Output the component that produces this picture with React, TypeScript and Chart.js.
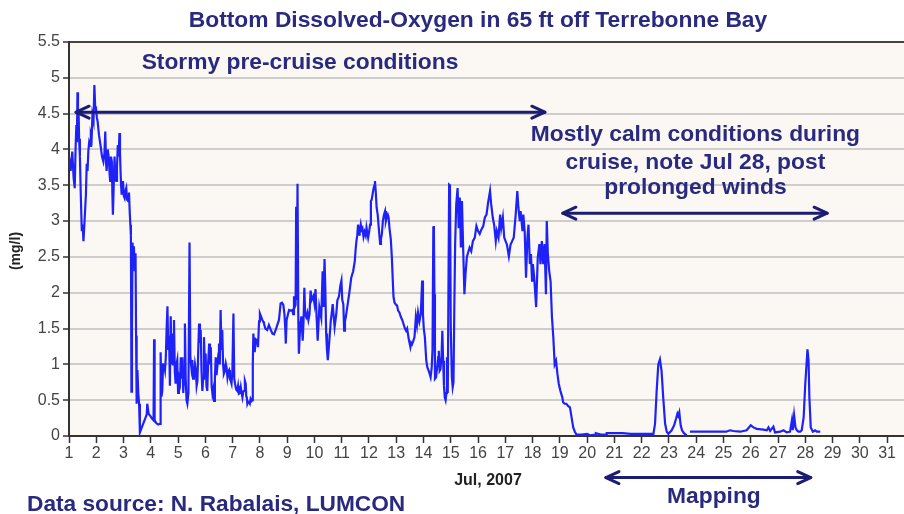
import { useEffect, useRef } from "react";
import { Chart, registerables } from "chart.js";

Chart.register(...registerables);

// ---- Data (day of July 2007, bottom dissolved oxygen mg/l) ----
const days = [
  1.0, 1.06, 1.12, 1.17, 1.21, 1.24, 1.27, 1.29, 1.31, 1.33, 1.35, 1.37, 1.4, 1.43, 1.47, 1.5, 1.53, 1.57, 1.62, 1.65,
  1.68, 1.71, 1.74, 1.78, 1.8, 1.83, 1.86, 1.9, 1.93, 1.96, 1.99, 2.02, 2.05, 2.1, 2.17, 2.21, 2.26, 2.3, 2.33, 2.36,
  2.38, 2.42, 2.46, 2.49, 2.51, 2.54, 2.57, 2.59, 2.61, 2.64, 2.67, 2.7, 2.73, 2.76, 2.79, 2.82, 2.85, 2.87, 2.89, 2.91,
  2.93, 2.96, 2.98, 3.01, 3.04, 3.07, 3.1, 3.13, 3.17, 3.2, 3.23, 3.25, 3.27, 3.29, 3.31, 3.33, 3.36, 3.38, 3.41, 3.44,
  3.46, 3.48, 3.51, 3.54, 3.57, 3.6,
  3.81, 3.85, 3.87, 3.92, 3.98, 4.05, 4.1, 4.12, 4.14, 4.2, 4.27, 4.34, 4.36, 4.39, 4.42, 4.45, 4.48, 4.52, 4.55, 4.58,
  4.61, 4.64, 4.67, 4.7, 4.73, 4.76, 4.79, 4.82, 4.85, 4.88, 4.91, 4.94, 4.97, 5.0, 5.03, 5.07, 5.1, 5.13, 5.16, 5.19,
  5.22, 5.25, 5.28, 5.31, 5.34, 5.38, 5.42, 5.45, 5.49, 5.52, 5.55, 5.58, 5.62, 5.65, 5.68, 5.71, 5.74, 5.77, 5.8, 5.83,
  5.86, 5.89, 5.92, 5.95, 5.98, 6.01, 6.04, 6.07, 6.1, 6.14, 6.17, 6.2, 6.23, 6.26, 6.29, 6.32, 6.35, 6.38, 6.41, 6.45,
  6.48, 6.5, 6.53, 6.56, 6.59, 6.62, 6.65, 6.68, 6.71, 6.75, 6.78, 6.81, 6.84, 6.87, 6.9, 6.93, 6.96, 6.99, 7.03, 7.06,
  7.09, 7.13, 7.17, 7.2, 7.23, 7.27, 7.3, 7.33, 7.36, 7.39, 7.42, 7.45, 7.48, 7.5, 7.52, 7.54, 7.57, 7.6, 7.63, 7.66,
  7.7, 7.72, 7.74, 7.76, 7.79, 7.81, 7.85, 7.88, 7.91, 7.93, 7.97, 8.0, 8.04, 8.09, 8.12, 8.15, 8.2, 8.27, 8.33, 8.4,
  8.46, 8.52, 8.58, 8.64, 8.7, 8.76, 8.81, 8.86, 8.9, 8.93, 8.95, 8.98, 9.03, 9.07, 9.13, 9.19, 9.22, 9.25, 9.28, 9.31,
  9.33, 9.35, 9.38, 9.41,
  9.43, 9.47, 9.52, 9.57, 9.6, 9.63, 9.66, 9.7, 9.74, 9.78, 9.82, 9.86, 9.9, 9.96, 10.0, 10.04, 10.08, 10.12, 10.18, 10.25,
  10.3, 10.33, 10.37, 10.4, 10.43, 10.46, 10.49, 10.52, 10.56, 10.6, 10.63, 10.67, 10.7, 10.74, 10.8, 10.84, 10.9, 10.95, 10.99, 11.02,
  11.06, 11.09, 11.12, 11.15, 11.22, 11.28, 11.35, 11.42, 11.48, 11.51, 11.54, 11.57, 11.6, 11.64, 11.66, 11.7, 11.73, 11.76, 11.8, 11.84,
  11.88, 11.91, 11.94, 11.97, 12.01, 12.04, 12.07, 12.1, 12.13, 12.17, 12.2, 12.22, 12.25, 12.28, 12.32, 12.36, 12.41, 12.44, 12.47, 12.51,
  12.55, 12.59, 12.62, 12.65, 12.69, 12.72, 12.75, 12.8, 12.84, 12.87, 12.9, 12.94, 12.98, 13.03, 13.07, 13.12, 13.17, 13.22, 13.27, 13.32,
  13.36, 13.4, 13.46, 13.52, 13.55, 13.58, 13.62, 13.67, 13.72, 13.76, 13.8, 13.85, 13.9, 13.95, 13.98, 14.01, 14.05, 14.1, 14.14, 14.2,
  14.26, 14.3, 14.33, 14.36, 14.38, 14.4, 14.42, 14.46, 14.5, 14.54, 14.56, 14.59, 14.62, 14.66, 14.69, 14.72, 14.75, 14.78, 14.81, 14.84,
  14.86, 14.89, 14.94, 14.97, 15.0, 15.04, 15.07, 15.1,
  15.13, 15.16, 15.2, 15.25, 15.29, 15.33, 15.37, 15.41, 15.46, 15.5, 15.54, 15.59, 15.62, 15.69, 15.75, 15.81, 15.88, 15.94, 16.0, 16.06,
  16.12, 16.19, 16.25, 16.31, 16.37, 16.44, 16.48, 16.54, 16.59, 16.65, 16.69, 16.75, 16.81, 16.85, 16.91, 16.96, 17.01, 17.06, 17.13, 17.19,
  17.25, 17.31, 17.38, 17.44, 17.48, 17.53, 17.56, 17.63, 17.66, 17.71, 17.76, 17.81, 17.85, 17.9, 17.94, 17.98, 18.01, 18.06, 18.13, 18.19,
  18.25, 18.29, 18.34, 18.39, 18.44, 18.49, 18.52, 18.56, 18.61, 18.66, 18.71, 18.76, 18.81, 18.86, 18.91, 18.96, 19.02, 19.09, 19.12, 19.17,
  19.24, 19.3, 19.37, 19.43, 19.49, 19.55, 19.61,
  19.8, 20.0, 20.1, 20.3, 20.32, 20.5, 20.7, 20.72, 21.0, 21.3, 21.6, 22.0, 22.3, 22.43, 22.49, 22.55, 22.61, 22.67, 22.73, 22.79,
  22.86, 22.92, 22.98, 23.1, 23.19, 23.26, 23.31, 23.34, 23.38, 23.43, 23.48, 23.55, 23.65, 23.71,
  23.77, 24.0, 24.4, 24.8, 25.1, 25.24, 25.36, 25.61, 25.85, 26.0, 26.1, 26.22, 26.47, 26.59, 26.65, 26.71, 26.83, 26.89, 27.08, 27.2,
  27.32, 27.44, 27.51, 27.54, 27.59, 27.64, 27.69, 27.75, 27.81, 27.87, 27.94, 28.0, 28.08, 28.12, 28.15, 28.2, 28.28, 28.36, 28.42, 28.55,
];

const oxygen = [
  3.9, 3.7, 3.97, 3.6, 3.46, 4.0, 4.34, 4.1, 4.8, 4.3, 4.55, 4.15, 3.9, 3.4, 2.86, 2.95, 2.72, 3.0, 3.37, 3.8,
  3.7, 3.98, 4.1, 4.05, 4.2, 4.15, 4.48, 4.4, 4.9, 4.6, 4.57, 4.45, 4.39, 4.2, 4.02, 3.9, 3.83, 3.95, 4.25, 3.8,
  3.7, 4.0, 3.88, 3.65, 3.56, 3.9, 3.83, 3.4, 3.09, 3.5, 3.9, 3.6, 3.56, 3.75, 4.06, 3.9, 4.23, 3.95, 3.7, 3.5,
  3.37, 3.45, 3.56, 3.35, 3.32, 3.42, 3.46, 3.3, 3.28, 3.4, 3.1, 2.95, 2.8, 0.62, 1.5, 2.7, 2.4, 2.65, 2.3, 2.55,
  1.4, 0.45, 0.92, 0.6, 0.45, 0.05,
  0.26, 0.3, 0.45, 0.31, 0.28, 0.24, 0.22, 1.35, 0.22, 0.18, 0.16, 0.17, 1.17, 0.55, 0.63, 1.0, 1.01, 0.92, 1.1, 1.5,
  1.81, 1.2, 1.4, 0.7, 1.67, 1.0, 1.43, 1.0, 1.62, 0.9, 0.73, 1.0, 1.06, 0.6, 0.82, 0.75, 1.1, 0.8, 1.1, 0.6,
  0.82, 1.57, 0.8, 0.5, 0.45, 0.6, 2.7, 1.1, 0.95, 1.06, 0.8, 0.82, 1.0, 0.92, 0.7, 0.77, 1.2, 1.57, 1.3, 1.48,
  0.9, 0.63, 0.8, 1.38, 1.0, 1.15, 0.7, 0.63, 1.0, 1.29, 1.0, 1.24, 0.7, 0.59, 0.65, 0.49, 0.8, 1.1, 0.85, 1.01,
  1.15, 1.29, 1.0, 1.76, 1.2, 1.48, 1.0, 0.87, 0.9, 1.01, 0.95, 0.82, 0.9, 0.92, 0.8, 0.77, 0.73, 0.9, 1.71, 0.8,
  0.73, 0.65, 0.63, 0.7, 0.59, 0.6, 0.68, 0.6, 0.54, 0.62, 0.63, 0.77, 0.73, 0.55, 0.54, 0.45, 0.48, 0.47, 0.45, 0.52,
  0.49, 0.5, 1.0, 1.43, 1.25, 1.17, 1.35, 1.34, 1.3, 1.24, 1.6, 1.71, 1.67, 1.62, 1.6, 1.57, 1.5, 1.48, 1.55, 1.48,
  1.43, 1.42, 1.48, 1.55, 1.62, 1.85, 1.86, 1.83, 1.7, 1.5, 1.29, 1.62, 1.7, 1.76, 1.75, 1.76, 1.7, 1.95, 1.8, 1.83,
  3.2, 1.9, 3.52, 1.6,
  1.15, 1.48, 1.67, 1.33, 1.6, 2.07, 1.7, 1.66, 1.72, 1.62, 1.7, 2.03, 1.9, 1.95, 1.85, 2.05, 1.66, 1.33, 1.8, 1.65,
  2.3, 1.8, 2.47, 2.05, 1.43, 1.2, 1.06, 1.2, 1.4, 1.61, 1.7, 1.84, 1.7, 1.52, 1.7, 1.89, 1.95, 2.1, 2.17, 1.9,
  1.84, 1.47, 1.6, 1.66, 1.84, 2.0, 2.21, 2.3, 2.44, 2.6, 2.72, 2.8, 2.95, 2.81, 2.85, 2.95, 2.88, 2.9, 2.78, 2.85,
  2.8, 2.91, 2.84, 2.77, 2.86, 2.95, 3.28, 3.3, 3.37, 3.46, 3.5, 3.56, 3.4, 3.19, 3.09, 2.9, 2.68, 2.75, 2.81, 3.0,
  3.09, 3.14, 3.0, 3.05, 3.09, 3.05, 2.91, 2.75, 2.49, 2.2, 1.94, 1.86, 1.84, 1.82, 1.75, 1.72, 1.66, 1.62, 1.56, 1.5,
  1.47, 1.5, 1.35, 1.24, 1.3, 1.28, 1.32, 1.38, 1.66, 1.55, 1.72, 1.6, 1.7, 2.17, 1.7, 1.5, 1.38, 1.06, 0.96, 0.9,
  0.82, 0.95, 1.2, 2.91, 2.93, 1.98, 0.8, 0.82, 0.96, 1.1, 1.19, 0.91, 0.93, 1.1, 1.47, 1.05, 0.7, 0.54, 0.5, 0.6,
  1.1, 0.6, 3.51, 3.5, 1.5, 0.82, 0.68, 0.75,
  1.8, 2.68, 3.23, 3.46, 2.9, 3.33, 2.63, 3.28, 2.54, 1.98, 2.26, 2.5, 2.54, 2.63, 2.58, 2.72, 2.77, 2.93, 2.86, 2.82,
  2.88, 2.93, 3.05, 3.09, 3.26, 3.42, 3.24, 3.05, 2.95, 2.72, 2.86, 2.77, 3.09, 2.9, 3.05, 2.77, 2.72, 2.67, 2.51, 2.67,
  2.72, 2.77, 3.09, 3.42, 3.19, 3.0, 3.14, 2.86, 3.09, 2.86, 2.21, 2.77, 2.95, 2.4, 2.54, 2.17, 2.4, 2.21, 1.8, 2.49,
  2.68, 2.4, 2.72, 2.4, 2.68, 1.98, 3.0, 2.54, 2.3, 2.16, 1.66, 1.38, 1.0, 1.05, 0.87, 0.73, 0.63, 0.54, 0.47, 0.45,
  0.45, 0.42, 0.4, 0.26, 0.12, 0.06, 0.02,
  0.02, 0.03, 0.01, 0.02, 0.04, 0.02, 0.02, 0.04, 0.04, 0.04, 0.03, 0.03, 0.03, 0.03, 0.17, 0.63, 1.0, 1.07, 0.91, 0.54,
  0.17, 0.06, 0.03, 0.08, 0.15, 0.24, 0.31, 0.28, 0.33, 0.15, 0.08, 0.04, 0.01, null,
  0.06, 0.06, 0.06, 0.06, 0.06, 0.08, 0.07, 0.06, 0.08, 0.15, 0.12, 0.1, 0.09, 0.08, 0.12, 0.07, 0.13, 0.05, 0.06, 0.08,
  0.05, 0.06, 0.22, 0.08, 0.29, 0.12, 0.08, 0.06, 0.06, 0.08, 0.26, 0.73, 1.21, 1.05, 0.54, 0.12, 0.06, 0.08, 0.06, 0.06,
];

const dayTicks = [
  1, 2, 3, 4, 5, 6, 7, 8, 9, 10, 11, 12, 13, 14, 15, 16, 17, 18, 19, 20, 21, 22, 23, 24, 25, 26, 27, 28, 29, 30, 31,
];
const oxygenTicks = [0, 0.5, 1, 1.5, 2, 2.5, 3, 3.5, 4, 4.5, 5, 5.5];

const chartTitle = "Bottom Dissolved-Oxygen in 65 ft off Terrebonne Bay";
const yAxisTitle = "(mg/l)";
const xAxisTitle = "Jul, 2007";
const sourceNote = "Data source: N. Rabalais, LUMCON";

// annotation text placed in data units (day, mg/l)
const noteTexts = [
  "Stormy pre-cruise conditions",
  "Mostly calm conditions during",
  "cruise, note Jul 28, post",
  "prolonged winds",
  "Mapping",
];
const noteDays = [9.47, 23.97, 23.97, 23.97, 24.65];
const noteLevels = [5.21, 4.2, 3.82, 3.46, -0.85];

// double arrows in data units
const arrowStarts = [1.26, 19.11, 20.69];
const arrowEnds = [18.45, 28.8, 28.2];
const arrowLevels = [4.52, 3.11, -0.58];

const NAVY = "#29297f";
const ARROW = "#1c1c72";
const FONT = "'Liberation Sans', Arial, sans-serif";

function drawArrowHead(ctx: CanvasRenderingContext2D, x: number, y: number, dir: number) {
  const len = 13;
  const half = 6;
  ctx.beginPath();
  ctx.moveTo(x - dir * len, y - half);
  ctx.lineTo(x, y);
  ctx.lineTo(x - dir * len, y + half);
  ctx.stroke();
}

const decorPlugin = {
  id: "decor",
  beforeDraw(chart: any) {
    const { ctx, chartArea } = chart;
    ctx.save();
    ctx.fillStyle = "#ffffff";
    ctx.fillRect(0, 0, chart.width, chart.height);
    ctx.fillStyle = "#fbf8f4";
    ctx.fillRect(chartArea.left, chartArea.top, chartArea.right - chartArea.left, chartArea.bottom - chartArea.top);
    ctx.restore();
  },
  afterDraw(chart: any) {
    const { ctx } = chart;
    const xs = chart.scales.x;
    const ys = chart.scales.y;
    ctx.save();
    // title
    ctx.fillStyle = NAVY;
    ctx.textAlign = "center";
    ctx.textBaseline = "middle";
    ctx.font = `bold 22.8px ${FONT}`;
    ctx.fillText(chartTitle, 478, 21);

    // notes
    ctx.font = `bold 22.8px ${FONT}`;
    for (let i = 0; i < noteTexts.length; i++) {
      ctx.fillText(noteTexts[i], xs.getPixelForValue(noteDays[i]), ys.getPixelForValue(noteLevels[i]));
    }

    // source
    ctx.textAlign = "left";
    ctx.font = `bold 22.7px ${FONT}`;
    ctx.fillText(sourceNote, 27, 505);

    // axis titles
    ctx.fillStyle = "#222222";
    ctx.textAlign = "center";
    ctx.font = `bold 16px ${FONT}`;
    ctx.fillText(xAxisTitle, 488, 481);
    ctx.save();
    ctx.translate(16, 251);
    ctx.rotate(-Math.PI / 2);
    ctx.font = `bold 14px ${FONT}`;
    ctx.fillText(yAxisTitle, 0, 0);
    ctx.restore();

    // arrows
    ctx.strokeStyle = ARROW;
    ctx.lineWidth = 3;
    ctx.lineCap = "round";
    ctx.lineJoin = "round";
    for (let i = 0; i < arrowStarts.length; i++) {
      const x1 = xs.getPixelForValue(arrowStarts[i]);
      const x2 = xs.getPixelForValue(arrowEnds[i]);
      const y = ys.getPixelForValue(arrowLevels[i]);
      ctx.beginPath();
      ctx.moveTo(x1, y);
      ctx.lineTo(x2, y);
      ctx.stroke();
      drawArrowHead(ctx, x1, y, -1);
      drawArrowHead(ctx, x2, y, 1);
    }
    ctx.restore();
  },
};

export default function App() {
  const canvasRef = useRef<HTMLCanvasElement | null>(null);

  useEffect(() => {
    document.body.style.margin = "0";
    const canvas = canvasRef.current;
    if (!canvas) return;
    const points = days.map((d, i) => ({ x: d, y: oxygen[i] }));
    const chart = new Chart(canvas, {
      type: "line",
      data: {
        datasets: [
          {
            label: "DO",
            data: points as any,
            borderColor: "#1e22f8",
            borderWidth: 2.2,
            pointRadius: 0,
            tension: 0,
            spanGaps: false,
          },
        ],
      },
      plugins: [decorPlugin],
      options: {
        responsive: false,
        animation: false,
        devicePixelRatio: 1,
        parsing: false as any,
        normalized: true,
        layout: { padding: { top: 42, right: 0, bottom: 0, left: 0 } },
        plugins: {
          legend: { display: false },
          title: { display: false },
          tooltip: { enabled: false },
        },
        scales: {
          x: {
            type: "linear",
            min: 1,
            max: 31.62,
            afterBuildTicks: (scale: any) => {
              scale.ticks = dayTicks.map((v) => ({ value: v }));
            },
            afterFit: (scale: any) => {
              scale.height = 78;
            },
            grid: {
              drawOnChartArea: false,
              drawTicks: true,
              tickLength: 7,
              tickColor: "#333333",
              tickWidth: 1.5,
            },
            border: { display: true, color: "#333333", width: 2 },
            ticks: {
              padding: 1,
              color: "#444444",
              font: { family: FONT, size: 16 },
              maxRotation: 0,
              autoSkip: false,
              callback: (v: any) => String(v),
            },
          },
          y: {
            min: 0,
            max: 5.5,
            afterBuildTicks: (scale: any) => {
              scale.ticks = oxygenTicks.map((v) => ({ value: v }));
            },
            afterFit: (scale: any) => {
              scale.width = 69;
            },
            grid: {
              color: (c: any) => (c.tick && c.tick.value === 5.5 ? "#444444" : "#cfcccc"),
              lineWidth: 2,
              drawTicks: true,
              tickLength: 6,
              tickColor: "#333333",
              tickWidth: 1.5,
            },
            border: { display: true, color: "#333333", width: 2 },
            ticks: {
              padding: 3,
              color: "#444444",
              font: { family: FONT, size: 16 },
              autoSkip: false,
              callback: (v: any) => String(v),
            },
          },
        },
      },
    });
    return () => chart.destroy();
  }, []);

  return (
    <div style={{ width: 904, height: 514 }}>
      <canvas ref={canvasRef} width={904} height={514} style={{ display: "block" }} />
    </div>
  );
}
